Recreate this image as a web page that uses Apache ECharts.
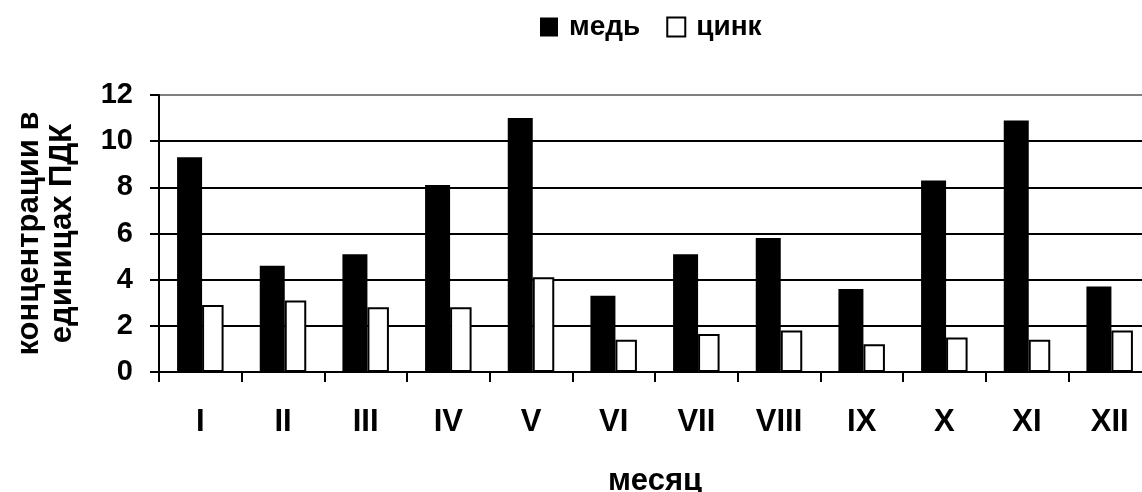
<!DOCTYPE html>
<html>
<head>
<meta charset="utf-8">
<script src="https://cdn.jsdelivr.net/npm/echarts@6/dist/echarts.min.js"></script>
<style>
html,body{margin:0;padding:0;background:#fff;}
#chart{width:1142px;height:492px;}
</style>
</head>
<body>
<div id="chart"></div>
<script>
const months = ['I','II','III','IV','V','VI','VII','VIII','IX','X','XI','XII'];
const copper = [9.3, 4.6, 5.1, 8.1, 11.0, 3.3, 5.1, 5.8, 3.6, 8.3, 10.9, 3.7];
const zinc = [2.9, 3.1, 2.8, 2.8, 4.1, 1.4, 1.65, 1.8, 1.2, 1.5, 1.4, 1.8];
const yTicks = [0, 2, 4, 6, 8, 10, 12];
const seriesNames = ['медь', 'цинк'];
const xName = 'месяц';
const yName = 'концентрации в\nединицах ПДК';

const FONT = '"Liberation Sans", Arial, sans-serif';
const chart = echarts.init(document.getElementById('chart'), null, {renderer: 'canvas'});
chart.setOption({
  animation: false,
  backgroundColor: '#ffffff',
  textStyle: {fontFamily: FONT},
  legend: {
    top: 8,
    left: 535,
    itemWidth: 18,
    itemHeight: 19,
    itemGap: 26,
    icon: 'rect',
    textStyle: {fontFamily: FONT, fontWeight: 'bold', fontSize: 28, color: '#000', padding: [0, 0, 0, 6]},
    data: seriesNames
  },
  grid: {left: 159, top: 95, height: 277, width: 992, containLabel: false, outerBoundsMode: 'none'},
  xAxis: {
    type: 'category',
    data: months,
    name: xName,
    nameLocation: 'middle',
    nameGap: 94,
    nameTextStyle: {fontFamily: FONT, fontWeight: 'bold', fontSize: 31, color: '#000'},
    axisLine: {lineStyle: {color: '#000', width: 2}},
    axisTick: {show: true, length: 10, lineStyle: {color: '#000', width: 2}},
    axisLabel: {margin: 35, fontFamily: FONT, fontWeight: 'bold', fontSize: 31, color: '#000'},
    splitLine: {show: false}
  },
  yAxis: {
    type: 'value',
    min: yTicks[0],
    max: yTicks[yTicks.length - 1],
    interval: 2,
    name: yName,
    nameLocation: 'middle',
    nameRotate: 90,
    nameGap: 80,
    nameTextStyle: {fontFamily: FONT, fontWeight: 'bold', fontSize: 31, color: '#000', lineHeight: 33},
    axisLine: {show: true, lineStyle: {color: '#000', width: 2}},
    axisTick: {show: true, inside: false, length: 9, lineStyle: {color: '#000', width: 2}},
    axisLabel: {margin: 26, fontFamily: FONT, fontWeight: 'bold', fontSize: 29, color: '#000', padding: [10, 0, 0, 0]},
    splitLine: {show: true, lineStyle: {color: ['#000', '#000', '#000', '#000', '#000', '#000', '#808080'], width: 2}}
  },
  series: [
    {
      name: seriesNames[0],
      type: 'bar',
      data: copper,
      barWidth: 25,
      barGap: '0%',
      itemStyle: {color: '#000', borderColor: '#000', borderWidth: 0}
    },
    {
      name: seriesNames[1],
      type: 'bar',
      data: zinc,
      barWidth: 21.5,
      barGap: '0%',
      itemStyle: {color: '#fff', borderColor: '#000', borderWidth: 2}
    }
  ]
});
</script>
</body>
</html>
